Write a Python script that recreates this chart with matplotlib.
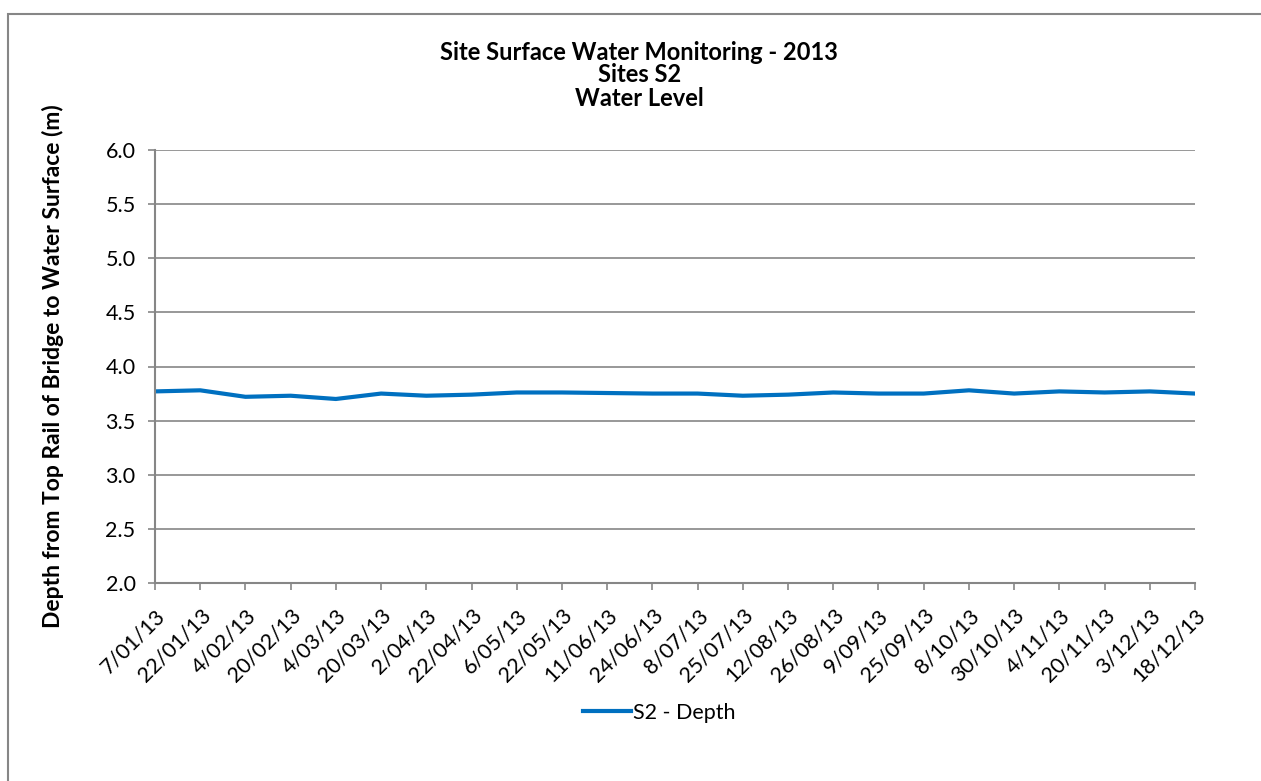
import matplotlib.pyplot as plt
from matplotlib.patches import Rectangle

plt.rcParams['font.family'] = ['Lato', 'DejaVu Sans']

dates = ['7/01/13', '22/01/13', '4/02/13', '20/02/13', '4/03/13', '20/03/13',
         '2/04/13', '22/04/13', '6/05/13', '22/05/13', '11/06/13', '24/06/13',
         '8/07/13', '25/07/13', '12/08/13', '26/08/13', '9/09/13', '25/09/13',
         '8/10/13', '30/10/13', '4/11/13', '20/11/13', '3/12/13', '18/12/13']
s2_depth = [3.77, 3.78, 3.72, 3.73, 3.70, 3.75, 3.73, 3.74, 3.76, 3.76, 3.755, 3.75,
            3.75, 3.73, 3.74, 3.76, 3.75, 3.75, 3.78, 3.75, 3.77, 3.76, 3.77, 3.75]
y_ticks = [2.0, 2.5, 3.0, 3.5, 4.0, 4.5, 5.0, 5.5, 6.0]
title_lines = ['Site Surface Water Monitoring - 2013', 'Sites S2', 'Water Level']

grey = '#868686'

fig = plt.figure(figsize=(12.61, 7.81), dpi=100)
ax = fig.add_axes([155 / 1261, 1 - 583 / 781, 1040 / 1261, 433 / 781])

# chart border (cropped on the right and bottom)
fig.patches.append(Rectangle((8 / 1261, -0.1), 1.2, 1.1 - 14 / 781,
                             transform=fig.transFigure, fill=False,
                             edgecolor=grey, linewidth=1.5))

x = list(range(len(dates)))
line, = ax.plot(x, s2_depth, color='#0070C0', linewidth=3, label='S2 - Depth')

ax.set_xlim(0, len(dates) - 1)
ax.set_ylim(2.0, 6.0)
ax.set_yticks(y_ticks)
ax.set_yticklabels(['%.1f' % v for v in y_ticks])
ax.set_xticks(x)
ax.set_xticklabels(dates, rotation=45, ha='right', rotation_mode='anchor')

ax.grid(axis='y', color=grey, linewidth=1.2)
ax.set_axisbelow(True)
for side in ['top', 'right']:
    ax.spines[side].set_visible(False)
for side in ['left', 'bottom']:
    ax.spines[side].set_color(grey)
    ax.spines[side].set_linewidth(1.5)
ax.tick_params(axis='both', colors=grey, length=5, width=1.2, labelcolor='black',
               labelsize=15.5)
ax.tick_params(axis='x', pad=11)
ax.tick_params(axis='y', pad=9)

ax.set_ylabel('Depth from Top Rail of Bridge to Water Surface (m)',
              fontsize=16.5, fontweight='bold', labelpad=30)

for i, t in enumerate(title_lines):
    fig.text(0.507, 1 - (52 + 23 * i) / 781, t, ha='center', va='center',
             fontsize=17, fontweight='bold')

fig.legend(handles=[line], loc='center', bbox_to_anchor=(0.523, 1 - 713 / 781),
           frameon=False, fontsize=15.5, handlelength=2.2, handletextpad=0.1)

fig.savefig('out.png', dpi=100)
